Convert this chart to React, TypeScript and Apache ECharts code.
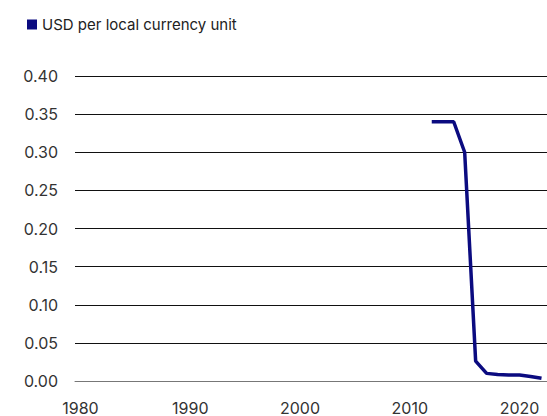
import React, { useEffect, useRef } from "react";
import * as echarts from "echarts";

const years: string[] = [];
for (let y = 1980; y <= 2022; y++) years.push(String(y));

const seriesName = "USD per local currency unit";
const lineYears = ["2012", "2013", "2014", "2015", "2016", "2017", "2018", "2019", "2020", "2021", "2022"];
const lineValues = [0.34, 0.34, 0.34, 0.3, 0.026, 0.01, 0.0085, 0.008, 0.008, 0.006, 0.0035];
const yTicks = [0, 0.05, 0.1, 0.15, 0.2, 0.25, 0.3, 0.35, 0.4];

export default function App() {
  const ref = useRef<HTMLDivElement>(null);
  useEffect(() => {
    if (!ref.current) return;
    const chart = echarts.init(ref.current, undefined, { renderer: "svg" });
    const data = years.map((y) => {
      const i = lineYears.indexOf(y);
      return i >= 0 ? lineValues[i] : null;
    });
    chart.setOption({
      animation: false,
      textStyle: { fontFamily: "Inter" },
      legend: {
        left: 22,
        top: 12,
        icon: "rect",
        itemWidth: 10,
        itemHeight: 10,
        itemGap: 8,
        textStyle: { fontSize: 15, color: "#222", fontFamily: "Inter" },
        data: [seriesName],
      },
      grid: { left: 75, top: 76, right: -4, bottom: 27.7, containLabel: false },
      xAxis: {
        type: "category",
        data: years,
        boundaryGap: true,
        axisLine: { lineStyle: { color: "#777", width: 1 } },
        axisTick: { interval: 9, length: 5, lineStyle: { color: "#777" } },
        axisLabel: { interval: 9, fontSize: 16, color: "#333", margin: 19, fontFamily: "Inter" },
        splitLine: { show: false },
      },
      yAxis: {
        type: "value",
        min: 0,
        max: yTicks[yTicks.length - 1],
        interval: 0.05,
        axisLine: { show: false },
        axisTick: { show: false },
        axisLabel: {
          fontSize: 16,
          color: "#333",
          margin: 17,
          fontFamily: "Inter",
          formatter: (v: number) => v.toFixed(2),
        },
        splitLine: { lineStyle: { color: "#111", width: 1 } },
      },
      series: [
        {
          name: seriesName,
          type: "line",
          data,
          showSymbol: false,
          symbol: "none",
          connectNulls: false,
          lineStyle: { color: "#0b0b80", width: 3.5 },
          itemStyle: { color: "#0b0b80" },
        },
      ],
    });
    return () => chart.dispose();
  }, []);
  return <div ref={ref} style={{ width: 547, height: 416, position: "absolute", left: 0, top: 0 }} />;
}
